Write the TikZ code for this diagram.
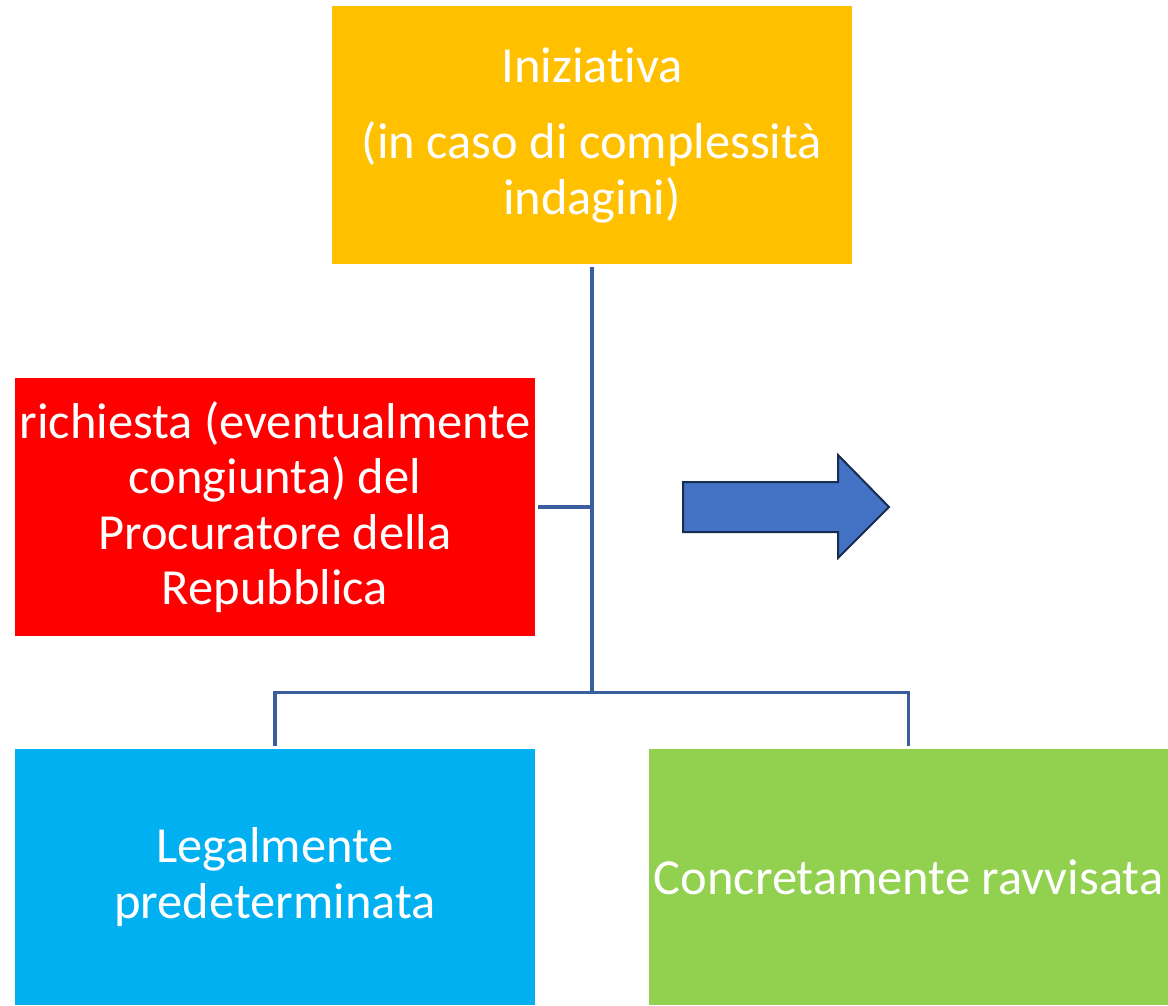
\documentclass[tikz,border=0pt]{standalone}
\usepackage{fontspec}
\setmainfont{Carlito}[Ligatures=NoCommon]
\definecolor{orangebox}{HTML}{FFC000}
\definecolor{redbox}{HTML}{FF0000}
\definecolor{bluebox}{HTML}{00B0F0}
\definecolor{greenbox}{HTML}{92D050}
\definecolor{arrowfill}{HTML}{4472C4}
\definecolor{arrowline}{HTML}{172C51}
\definecolor{connline}{HTML}{3A5DA0}
\begin{document}
\begin{tikzpicture}[x=1pt,y=-1pt,
  box/.style={minimum width=520pt,minimum height=258pt,inner sep=0pt,text=white,align=center,
    font=\fontsize{50.5}{55.5}\selectfont},
  conn/.style={draw=connline,line width=3.2pt}]
\useasboundingbox[fill=white] (0,0) rectangle (1168,1005);
\node[box,fill=orangebox] (top) at (592,135) {Iniziativa\\[21pt](in caso di complessità\\indagini)};
\node[box,fill=redbox] (req) at (275,507) {richiesta (eventualmente\\congiunta) del\\Procuratore della\\Repubblica};
\node[box,fill=bluebox,minimum height=256pt] (leg) at (275,877) {Legalmente\\predeterminata};
\node[box,fill=greenbox,minimum width=519pt,minimum height=256pt] (con) at (908.5,877) {Concretamente ravvisata};
\coordinate (j) at (592,692.5);
\draw[conn] ([yshift=-3pt]top.south) -- (j);
\draw[conn] ([xshift=3pt]req.east) -- (req.east -| top.south);
\draw[conn,line join=miter] ([yshift=3pt]leg.north) |- (j) -| ([yshift=3pt]con.north);
\draw[fill=arrowfill,draw=arrowline,line width=2pt,line join=miter]
  (683,482) -- (838,482) -- (838,455) -- (889,507) -- (838,558) -- (838,532) -- (683,532) -- cycle;
\end{tikzpicture}
\end{document}
